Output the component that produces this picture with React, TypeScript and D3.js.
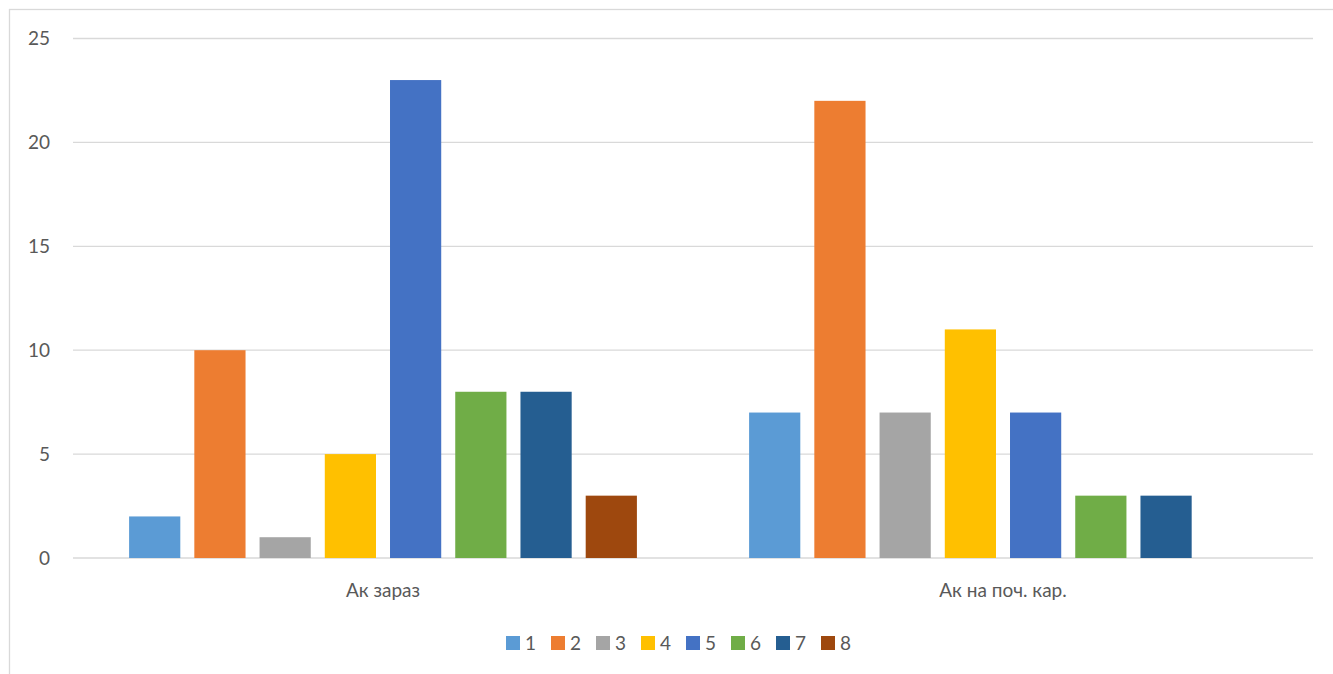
import * as d3 from "d3";
import { useEffect, useRef } from "react";

// categories and series
const categories = ["Ак зараз", "Ак на поч. кар."];
const seriesNames = ["1", "2", "3", "4", "5", "6", "7", "8"];
const seriesColors = ["#5B9BD5", "#ED7D31", "#A5A5A5", "#FFC000", "#4472C4", "#70AD47", "#255E91", "#9E480E"];
// values per series: [Ак зараз, Ак на поч. кар.]
const s1 = [2, 7];
const s2 = [10, 22];
const s3 = [1, 7];
const s4 = [5, 11];
const s5 = [23, 7];
const s6 = [8, 3];
const s7 = [8, 3];
const s8 = [3, 0];
const seriesValues = [s1, s2, s3, s4, s5, s6, s7, s8];
const yTicks = [0, 5, 10, 15, 20, 25];

function App() {
    const ref = useRef(null);
    const width = 1333;
    const height = 674;

    useEffect(() => {
        const svg = d3.select(ref.current);
        svg.selectAll("*").remove();

        const font = "Lato, 'Open Sans', sans-serif";
        const textColor = "#595959";
        const fontSize = 19;

        // chart frame
        svg.append("rect")
            .attr("x", 9.5).attr("y", 9.5)
            .attr("width", width + 20).attr("height", height + 20)
            .attr("fill", "white")
            .attr("stroke", "#d9d9d9")
            .attr("stroke-width", 1.3);

        const left = 73, right = 1313, top = 38.5, bottom = 558;

        const x0 = d3.scaleBand()
            .domain(categories)
            .range([left, right]);

        const x1 = d3.scaleBand()
            .domain(seriesNames)
            .range([0, x0.bandwidth()])
            .paddingInner(0.215)
            .paddingOuter(0.86);

        const y = d3.scaleLinear()
            .domain([0, 25])
            .range([bottom, top]);

        // gridlines
        svg.append("g")
            .selectAll("line")
            .data(yTicks)
            .enter()
            .append("line")
            .attr("x1", left).attr("x2", right)
            .attr("y1", d => y(d)).attr("y2", d => y(d))
            .attr("stroke", "#d9d9d9")
            .attr("stroke-width", 1.3);

        // y tick labels
        svg.append("g")
            .selectAll("text")
            .data(yTicks)
            .enter()
            .append("text")
            .attr("x", 50)
            .attr("y", d => y(d))
            .attr("dy", "0.35em")
            .attr("text-anchor", "end")
            .attr("font-family", font)
            .attr("font-size", fontSize)
            .attr("fill", textColor)
            .text(d => d);

        // bars
        seriesNames.forEach((name, i) => {
            svg.append("g")
                .selectAll("rect")
                .data(seriesValues[i].map((v, j) => ({ cat: categories[j], v })))
                .enter()
                .append("rect")
                .attr("x", d => x0(d.cat)! + x1(name)!)
                .attr("y", d => y(d.v))
                .attr("width", x1.bandwidth())
                .attr("height", d => bottom - y(d.v))
                .attr("fill", seriesColors[i]);
        });

        // category labels
        svg.append("g")
            .selectAll("text")
            .data(categories)
            .enter()
            .append("text")
            .attr("x", d => x0(d)! + x0.bandwidth() / 2)
            .attr("y", 597)
            .attr("text-anchor", "middle")
            .attr("font-family", font)
            .attr("font-size", fontSize)
            .attr("fill", textColor)
            .text(d => d);

        // legend
        const legend = svg.append("g");
        const legendStep = 45;
        const legendStart = 506;
        seriesNames.forEach((name, i) => {
            const g = legend.append("g")
                .attr("transform", `translate(${legendStart + i * legendStep},636)`);
            g.append("rect")
                .attr("width", 14).attr("height", 14)
                .attr("fill", seriesColors[i]);
            g.append("text")
                .attr("x", 19).attr("y", 7)
                .attr("dy", "0.35em")
                .attr("font-family", font)
                .attr("font-size", fontSize)
                .attr("fill", textColor)
                .text(name);
        });
    }, []);

    return (
        <svg
            ref={ref}
            width={width}
            height={height}
            style={{ position: "absolute", left: 0, top: 0, background: "white" }}
        />
    );
}

export default App;
